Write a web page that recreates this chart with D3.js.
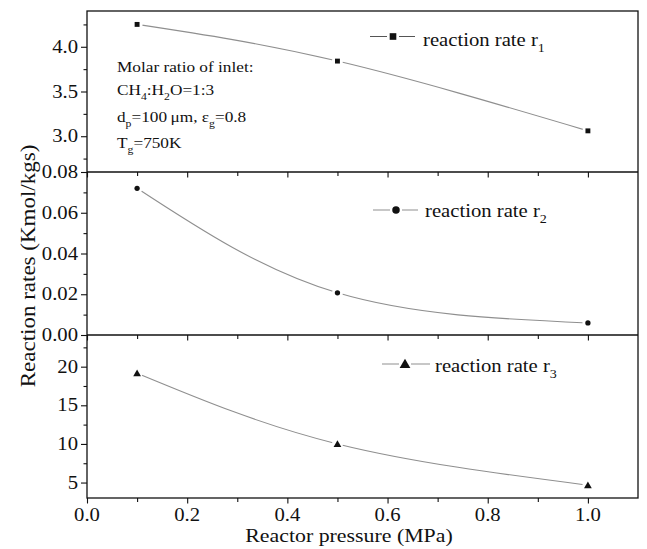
<!DOCTYPE html>
<html>
<head>
<meta charset="utf-8">
<script src="https://cdn.jsdelivr.net/npm/d3@7"></script>
<style>
  html, body { margin: 0; padding: 0; background: #fff; }
  svg { display: block; }
  svg text { font-family: "Liberation Serif", "Times New Roman", Times, "DejaVu Serif", serif; }
</style>
</head>
<body>
<svg id="chart" width="647" height="549"></svg>
<script>
// Reaction rates vs reactor pressure, three stacked panels
const pressure = [0.1, 0.5, 1.0];
const rate1 = [4.25, 3.84, 3.06];
const rate2 = [0.072, 0.0207, 0.0059];
const rate3 = [19.15, 10.0, 4.66];

const xMajorTicks = [0.0, 0.2, 0.4, 0.6, 0.8, 1.0];
const xMinorTicks = [0.1, 0.3, 0.5, 0.7, 0.9];
const y1MajorTicks = [3.0, 3.5, 4.0];
const y1MinorTicks = [2.75, 3.25, 3.75, 4.25];
const y2MajorTicks = [0.00, 0.02, 0.04, 0.06, 0.08];
const y2MinorTicks = [0.01, 0.03, 0.05, 0.07];
const y3MajorTicks = [5, 10, 15, 20];
const y3MinorTicks = [7.5, 12.5, 17.5, 22.5];

const legendLabels = ["reaction rate r", "reaction rate r", "reaction rate r"];
const legendSubs = ["1", "2", "3"];

const svg = d3.select("#chart");
const SX = 1.15;          // horizontal stretch of the serif lettering
const INK = "#111";
const LINE = "#8f8f8f";

const left = 87, right = 638;
const bands = [[11, 172], [172, 335], [335, 498]];

const x = d3.scaleLinear().domain([0, 1.1]).range([left, right]);

const panels = [
  { vals: rate1, dom: [2.6, 4.4], major: y1MajorTicks, minor: y1MinorTicks, fmt: d3.format(".1f"), marker: "square" },
  { vals: rate2, dom: [0, 0.08], major: y2MajorTicks, minor: y2MinorTicks, fmt: d3.format(".2f"), marker: "circle" },
  { vals: rate3, dom: [3, 24.1], major: y3MajorTicks, minor: y3MinorTicks, fmt: d3.format("d"), marker: "triangle" }
];

// text helper: pieces are [string, isSubscript]
function label(parent, px, py, size, anchor, pieces, rot) {
  const t = parent.append("text")
    .attr("transform", `translate(${px},${py})` + (rot ? ` rotate(${rot})` : "") + ` scale(${SX},1)`)
    .attr("font-size", size)
    .attr("fill", INK)
    .attr("text-anchor", anchor);
  let shifted = false;
  pieces.forEach(([s, sub]) => {
    const ts = t.append("tspan").text(s);
    if (sub && !shifted) { ts.attr("dy", size * 0.32).attr("font-size", size * 0.68); shifted = true; }
    else if (!sub && shifted) { ts.attr("dy", -size * 0.32); shifted = false; }
    else if (sub) { ts.attr("font-size", size * 0.68); }
  });
  return t;
}

function markerPath(kind, size) {
  const sym = kind === "square" ? d3.symbolSquare : kind === "circle" ? d3.symbolCircle : d3.symbolTriangle;
  return d3.symbol().type(sym).size(size)();
}

panels.forEach((p, i) => {
  const [top, bottom] = bands[i];
  const y = d3.scaleLinear().domain(p.dom).range([bottom, top]);
  const g = svg.append("g");

  // left axis ticks
  g.append("g").attr("transform", `translate(${left},0)`)
    .call(d3.axisLeft(y).tickValues(p.major).tickSize(6).tickFormat(""))
    .call(a => a.select(".domain").remove())
    .call(a => a.selectAll("line").attr("stroke", INK).attr("stroke-width", 1.1));
  g.append("g").attr("transform", `translate(${left},0)`)
    .call(d3.axisLeft(y).tickValues(p.minor).tickSize(3.5).tickFormat(""))
    .call(a => a.select(".domain").remove())
    .call(a => a.selectAll("line").attr("stroke", INK).attr("stroke-width", 1.1));

  // left tick labels
  p.major.forEach(v => {
    label(g, 78, y(v) + 6, 18, "end", [[p.fmt(v), false]]);
  });

  // bottom axis ticks of each panel
  g.append("g").attr("transform", `translate(0,${bottom})`)
    .call(d3.axisBottom(x).tickValues(xMajorTicks).tickSize(5.5).tickFormat(""))
    .call(a => a.select(".domain").remove())
    .call(a => a.selectAll("line").attr("stroke", INK).attr("stroke-width", 1.1));
  g.append("g").attr("transform", `translate(0,${bottom})`)
    .call(d3.axisBottom(x).tickValues(xMinorTicks).tickSize(4).tickFormat(""))
    .call(a => a.select(".domain").remove())
    .call(a => a.selectAll("line").attr("stroke", INK).attr("stroke-width", 1.1));

  // series curve
  const pts = pressure.map((px, k) => [px, p.vals[k]]);
  g.append("path")
    .datum(pts)
    .attr("fill", "none")
    .attr("stroke", LINE)
    .attr("stroke-width", 1.1)
    .attr("d", d3.line().x(d => x(d[0])).y(d => y(d[1])).curve(d3.curveNatural));

  // white halo then marker
  const mSize = p.marker === "square" ? 24 : p.marker === "circle" ? 22 : 26;
  pts.forEach(d => {
    g.append("circle").attr("cx", x(d[0])).attr("cy", y(d[1])).attr("r", 5.5).attr("fill", "#fff");
    g.append("path").attr("d", markerPath(p.marker, mSize))
      .attr("transform", `translate(${x(d[0])},${y(d[1]) + (p.marker === "triangle" ? 0.8 : 0)})`)
      .attr("fill", INK);
  });
});

// legends
const legendPos = [
  { x0: 370, x1: 415, mx: 393, my: 36.5, tx: 423, ty: 46, kind: "square", size: 44 },
  { x0: 373, x1: 418, mx: 396, my: 210, tx: 425, ty: 217, kind: "circle", size: 44 },
  { x0: 382, x1: 430, mx: 405, my: 364, tx: 435, ty: 372, kind: "triangle", size: 50 }
];
legendPos.forEach((L, i) => {
  const g = svg.append("g");
  g.append("line").attr("x1", L.x0).attr("x2", L.x1).attr("y1", L.my).attr("y2", L.my)
    .attr("stroke", i === 0 ? "#555" : LINE).attr("stroke-width", 1.1);
  g.append("rect").attr("x", L.mx - 6).attr("y", L.my - 6).attr("width", 12).attr("height", 12).attr("fill", "#fff");
  g.append("path").attr("d", markerPath(L.kind, L.size))
    .attr("transform", `translate(${L.mx},${L.my + (L.kind === "triangle" ? 1 : 0)})`).attr("fill", INK);
  label(g, L.tx, L.ty, 18, "start", [[legendLabels[i], false], [legendSubs[i], true]]);
});

// frame
const frame = svg.append("g").attr("stroke", INK).attr("stroke-width", 1.3).attr("fill", "none");
frame.append("rect").attr("x", left).attr("y", bands[0][0]).attr("width", right - left).attr("height", bands[2][1] - bands[0][0]);
frame.append("line").attr("x1", left).attr("x2", right).attr("y1", bands[1][0]).attr("y2", bands[1][0]);
frame.append("line").attr("x1", left).attr("x2", right).attr("y1", bands[2][0]).attr("y2", bands[2][0]);

// bottom tick labels
xMajorTicks.forEach(v => {
  label(svg, x(v), 521, 18, "middle", [[d3.format(".1f")(v), false]]);
});

// axis titles
label(svg, 349, 542, 19, "middle", [["Reactor pressure (MPa)", false]]);
label(svg, 35, 266, 20, "middle", [["Reaction rates (Kmol/kgs)", false]], -90);

// operating conditions note
const note = svg.append("g");
label(note, 117, 72, 15, "start", [["Molar ratio of inlet:", false]]);
label(note, 117, 95, 15, "start", [["CH", false], ["4", true], [":H", false], ["2", true], ["O=1:3", false]]);
label(note, 117, 122, 15, "start", [["d", false], ["p", true], ["=100\u2009\u03BCm, \u03B5", false], ["g", true], ["=0.8", false]]);
label(note, 117, 148, 15, "start", [["T", false], ["g", true], ["=750K", false]]);
</script>
</body>
</html>
